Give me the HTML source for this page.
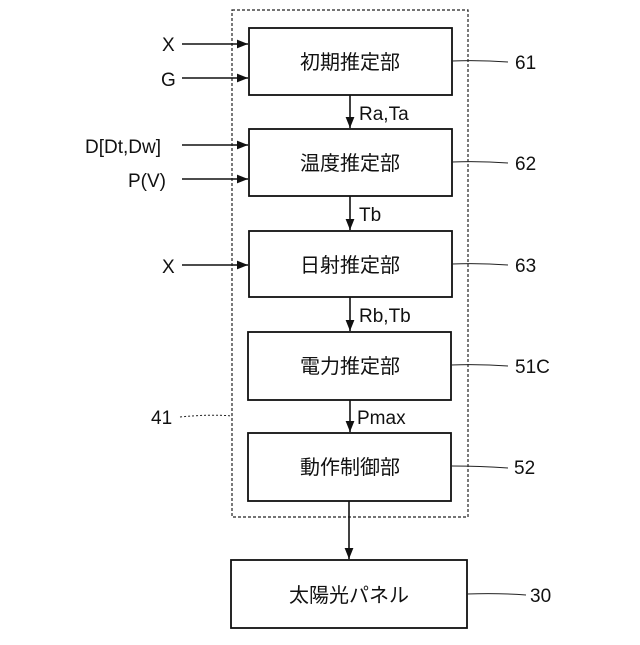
<!DOCTYPE html>
<html><head><meta charset="utf-8"><style>
body{margin:0;background:#fff}
svg text{font-family:"Liberation Sans","Noto Sans CJK JP",sans-serif;fill:#111}
</style></head><body>
<svg width="640" height="640" viewBox="0 0 640 640" xmlns="http://www.w3.org/2000/svg">
<defs><marker id="a" viewBox="0 0 10 10" refX="10" refY="5" markerWidth="7" markerHeight="7" orient="auto"><path d="M0,1 L10,5 L0,9 z" fill="#111"/></marker></defs>
<rect x="232" y="10" width="236" height="507" fill="none" stroke="#222" stroke-width="1.2" stroke-dasharray="3,2"/>
<g fill="#fff" stroke="#111" stroke-width="1.8">
<rect x="249" y="28" width="203" height="67"/>
<rect x="249" y="129" width="203" height="67"/>
<rect x="249" y="231" width="203" height="66"/>
<rect x="248" y="332" width="203" height="68"/>
<rect x="248" y="433" width="203" height="68"/>
<rect x="231" y="560" width="236" height="68"/>
</g>
<g stroke="#111" stroke-width="1.6" marker-end="url(#a)">
<line x1="182" y1="44" x2="248" y2="44"/>
<line x1="182" y1="78" x2="248" y2="78"/>
<line x1="182" y1="145" x2="248" y2="145"/>
<line x1="182" y1="179" x2="248" y2="179"/>
<line x1="182" y1="265" x2="248" y2="265"/>
<line x1="350" y1="95" x2="350" y2="128"/>
<line x1="350" y1="196" x2="350" y2="230"/>
<line x1="350" y1="297" x2="350" y2="331"/>
<line x1="350" y1="400" x2="350" y2="432"/>
<line x1="349" y1="501" x2="349" y2="559"/>
</g>
<g stroke="#222" stroke-width="1" fill="none">
<path d="M452,61 Q480,60 508,62"/>
<path d="M452,162 Q480,161 508,163"/>
<path d="M452,264 Q480,263 508,265"/>
<path d="M451,365 Q480,364 508,366"/>
<path d="M451,466 Q480,466 508,468"/>
<path d="M467,594 Q500,593 526,595"/>
<path d="M180,417 Q210,414 232,416" stroke-dasharray="2,2"/>
</g>
<g font-size="20" text-anchor="middle">
<text x="350" y="69">初期推定部</text>
<text x="350" y="170">温度推定部</text>
<text x="350" y="272">日射推定部</text>
<text x="350" y="373">電力推定部</text>
<text x="350" y="474">動作制御部</text>
<text x="349" y="602">太陽光パネル</text>
</g>
<g font-size="19">
<text x="162" y="51">X</text>
<text x="161" y="86">G</text>
<text x="85" y="153">D[Dt,Dw]</text>
<text x="128" y="187">P(V)</text>
<text x="162" y="273">X</text>
<text x="359" y="120">Ra,Ta</text>
<text x="359" y="221">Tb</text>
<text x="359" y="322">Rb,Tb</text>
<text x="357" y="424">Pmax</text>
<text x="515" y="69">61</text>
<text x="515" y="170">62</text>
<text x="515" y="272">63</text>
<text x="515" y="373">51C</text>
<text x="514" y="474">52</text>
<text x="530" y="602">30</text>
<text x="151" y="424">41</text>
</g>
</svg>
</body></html>
